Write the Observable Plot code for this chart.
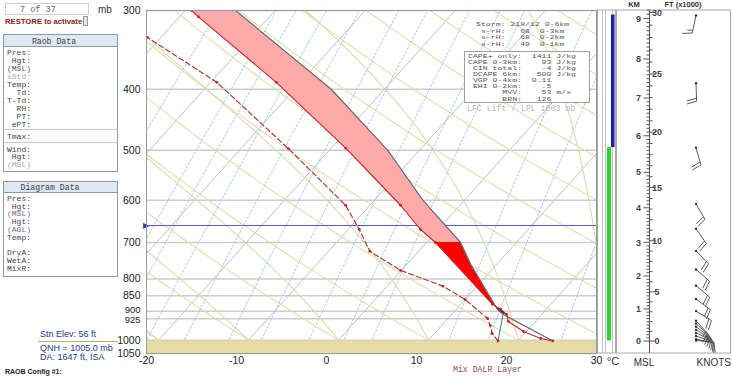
<!DOCTYPE html>
<html><head><meta charset="utf-8">
<script src="https://cdn.jsdelivr.net/npm/d3@7"></script>
<script src="https://cdn.jsdelivr.net/npm/@observablehq/plot@0.6"></script>
<style>
body{margin:0;background:#fff;}
#wrap{position:relative;width:732px;height:377px;overflow:hidden;}
#wrap svg{position:absolute;left:0;top:0;}
</style></head>
<body><div id="wrap"></div>
<script>
// ---------------- DATA ----------------
const pressureTicks = [300, 400, 500, 600, 700, 800, 850, 900, 925, 1000, 1050];
const tempTicks = [-20, -10, 0, 10, 20, 30];

// environment temperature (°C) at pressure (mb)
const envP = [1003, 994, 969, 934, 910, 893, 877, 700, 667, 611, 496, 390, 307, 300];
const envT = [23.9, 22.3, 19.7, 17.0, 16.1, 14.9, 13.5, 1.0, -2.0, -6.6, -18.4, -32.7, -47.9, -49.3];

// dewpoint (°C)
const dewP = [1003, 976, 948, 924, 862, 821, 775, 723, 667, 611, 497, 390, 331, 300];
const dewT = [17.8, 16.4, 15.4, 14.4, 10.0, 6.2, -0.1, -5.4, -8.8, -12.7, -24.7, -39.3, -51.5, -58.8];

// lifted parcel (°C)
const parcelP = [1003, 910, 894, 758, 700, 600, 500, 400, 300];
const parcelT = [23.9, 15.7, 14.6, 7.1, 3.8, -4.6, -13.5, -25.9, -44.4];

// winds
const windP   = [306, 392, 496, 609, 667, 723, 774, 821, 862, 901, 933, 943, 954, 965, 976, 987, 998, 1003];
const windDir = [192, 178, 164, 150, 145, 136, 131, 130, 127, 121, 138, 132, 126, 120, 114, 108, 102, 96];
const windSpd = [15, 20, 20, 20, 20, 20, 20, 20, 20, 20, 15, 15, 15, 15, 10, 10, 10, 10];

// side strip bars (pressure spans)
const greenBarP = [1003, 495];
const blueBarP = [495, 305];

const SURFACE_P = 1003;
const QNH = 1005;
const markerP = 658;

const kmTicks = [0, 1, 2, 3, 4, 5, 6, 7, 8, 9];
const ftTicks = [0, 5, 10, 15, 20, 25, 30];

const mixRatios = [0.2, 0.4, 0.5, 0.7, 1, 1.5, 2, 3, 4, 5, 9, 12, 20];
const isoTemps = d3.range(-70, 31, 10);
const dryThetas = d3.range(-30, 111, 10);
const moistStarts = d3.range(-20, 31, 10);

const stormLines = ["Storm: 218/12 0-6km", " s-rH:   68  0-3km", " s-rH:   68  0-2km", " s-rH:   49  0-1km"];
const statLabels = ["CAPE+ only:", "CAPE 0-3km:", " CIN total:", " DCAPE 6km:", " VGP 0-4km:", " EHI 0-2km:", "       MVV:", "       BRN:"];
const statValues = ["  1411 J/kg", "    93 J/kg", "    -4 J/kg", "   500 J/kg", "  0.11", "    .5", "    53 m/s", "   126"];
const raobLabels = ["Pres:", "Hgt:", "(MSL)", "\u00b1Std:", "Temp:", "Td:", "T-Td:", "RH:", "PT:", "ePT:"];
const diagLabels = ["Pres:", "Hgt:", "(MSL)", "Hgt:", "(AGL)", "Temp:", "", "DryA:", "WetA:", "MixR:"];

// ---------------- GEOMETRY ----------------
const W = 732, H = 377, ML = 146, MR = 136, MT = 10, MB = 24;
const P_BOTTOM = 1050, P_TOP = 300;
const PX_PER_C = (W - ML - MR) / 50;
const PX_PER_LN = (H - MT - MB) / Math.log(P_BOTTOM / P_TOP);
const SKEW = 0.9 * PX_PER_LN / PX_PER_C;
const sx = (t, p) => t + SKEW * Math.log(P_BOTTOM / p);
const SANS = "Arial, 'Liberation Sans', sans-serif";
const MONO = "'Liberation Mono', 'DejaVu Sans Mono', monospace";

function interpT(P, T, p) {
  for (let i = 0; i < P.length - 1; i++) {
    if (p <= P[i] && p >= P[i + 1]) {
      const f = Math.log(P[i] / p) / Math.log(P[i] / P[i + 1]);
      return T[i] + f * (T[i + 1] - T[i]);
    }
  }
  return p > P[0] ? T[0] : T[T.length - 1];
}

const levels = d3.range(1050, 299, -10);
const isoPts = isoTemps.flatMap(t => [{k: t, p: 1050, t}, {k: t, p: 300, t}]);
const dryPts = dryThetas.flatMap(th => levels.map(p => ({k: th, p, t: (th + 273.15) * Math.pow(p / 1000, 0.2857) - 273.15})));
function dTdp(p, T) {
  const Tc = T - 273.15;
  const es = 6.112 * Math.exp(17.67 * Tc / (Tc + 243.5));
  const rs = 0.622 * es / (p - es);
  const num = (287.04 * T + 2.501e6 * rs) / p;
  const den = 1005.7 + (2.501e6 * 2.501e6 * rs * 0.622) / (287.04 * T * T);
  return num / den;
}
function moist(t0) {
  const run = (dir, pEnd) => {
    let p = 1000, T = t0 + 273.15;
    const h = 5 * dir;
    const seg = [];
    while ((dir < 0 && p > pEnd) || (dir > 0 && p < pEnd)) {
      const k1 = dTdp(p, T), k2 = dTdp(p + h / 2, T + h / 2 * k1), k3 = dTdp(p + h / 2, T + h / 2 * k2), k4 = dTdp(p + h, T + h * k3);
      T += h / 6 * (k1 + 2 * k2 + 2 * k3 + k4); p += h;
      seg.push({p, t: T - 273.15});
    }
    return seg;
  };
  const up = run(-1, 300), down = run(1, 1050);
  return [...down.reverse(), {p: 1000, t: t0}, ...up].map(d => ({...d, k: t0}));
}
const moistPts = moistStarts.flatMap(moist);
function tdFromW(w, p) {
  const e = w * p / (622 + w);
  const l = Math.log(e / 6.112);
  return 243.5 * l / (17.67 - l);
}
const mixPts = mixRatios.flatMap(w => levels.map(p => ({k: w, p, t: tdFromW(w, p)})));

const env = envP.map((p, i) => ({p, t: envT[i]}));
const dew = dewP.map((p, i) => ({p, t: dewT[i]}));
const parcel = parcelP.map((p, i) => ({p, t: parcelT[i]}));
const lclLink = [{p: dewP[0], t: dewT[0]}, {p: parcelP[1], t: parcelT[1]}];

function band(pHi, pLo, mode) {
  const lv = Array.from(new Set([...envP, ...parcelP, pHi, pLo].filter(p => p <= pHi && p >= pLo))).sort((a, b) => b - a);
  const out = [];
  lv.forEach((p, i) => {
    const e = interpT(envP, envT, p), q = interpT(parcelP, parcelT, p);
    if (i > 0) {
      const p0 = lv[i - 1];
      const d0 = interpT(parcelP, parcelT, p0) - interpT(envP, envT, p0), d1 = q - e;
      if (d0 * d1 < 0) {
        const f = d0 / (d0 - d1);
        const pc = Math.exp(Math.log(p0) + f * (Math.log(p) - Math.log(p0)));
        const ec = interpT(envP, envT, pc);
        out.push({p: pc, a: ec, b: ec});
      }
    }
    out.push({p, a: e, b: mode === "pos" ? Math.max(e, q) : Math.min(e, q)});
  });
  return out;
}

// height table (hypsometric, from sounding temps)
const hTable = (() => {
  const rows = [{p: QNH, z: 0}];
  let z = 0;
  for (let p = QNH; p > 295; p -= 1) {
    const T = interpT(envP, envT, p - 0.5) + 273.15;
    z += 29.27 * T * Math.log(p / (p - 1));
    rows.push({p: p - 1, z});
  }
  return rows;
})();
function pAtZ(z) {
  for (let i = 1; i < hTable.length; i++) {
    if (hTable[i].z >= z) {
      const a = hTable[i - 1], b = hTable[i];
      return a.p + (z - a.z) / (b.z - a.z) * (b.p - a.p);
    }
  }
  return null;
}

// ---------------- RIGHT PANEL (uses plot y scale) ----------------
function rightPanel(index, scales) {
  const y = scales.y;
  const g = d3.create("svg:g").attr("font-family", SANS);
  const yT = y(P_TOP), yB = y(P_BOTTOM);
  g.append("rect").attr("x", 597.5).attr("y", yT).attr("width", 18).attr("height", yB - yT).attr("fill", "#fff").attr("stroke", "#a8a8a8");
  for (const xv of [602.5, 605.5, 612.5]) g.append("line").attr("x1", xv).attr("x2", xv).attr("y1", yT).attr("y2", yB).attr("stroke", "#c4c4c4");
  g.append("rect").attr("x", 607).attr("width", 4).attr("y", y(greenBarP[1])).attr("height", y(greenBarP[0]) - y(greenBarP[1])).attr("fill", "#2bd42b");
  g.append("rect").attr("x", 611).attr("width", 3.5).attr("y", y(blueBarP[1])).attr("height", y(blueBarP[0]) - y(blueBarP[1])).attr("fill", "#1c1cb4");
  g.append("rect").attr("x", 616.5).attr("y", yT).attr("width", 114).attr("height", yB - yT).attr("fill", "#fff").attr("stroke", "#a8a8a8");
  const AX = 649.5;
  g.append("line").attr("x1", AX).attr("x2", AX).attr("y1", yT).attr("y2", yB).attr("stroke", "#555");
  for (let k = 0; k <= 93; k++) {
    const p = pAtZ(k * 100); if (!p || p < P_TOP) continue;
    const major = k % 10 === 0;
    g.append("line").attr("x1", AX - (major ? 6 : 3)).attr("x2", AX).attr("y1", y(p)).attr("y2", y(p)).attr("stroke", "#555");
  }
  for (let f = 0; f <= 31; f++) {
    const p = pAtZ(f * 304.8); if (!p || p < P_TOP) continue;
    const major = f % 5 === 0;
    g.append("line").attr("x1", AX).attr("x2", AX + (major ? 6 : 3)).attr("y1", y(p)).attr("y2", y(p)).attr("stroke", "#555");
  }
  kmTicks.forEach(k => g.append("text").attr("x", 641).attr("y", y(pAtZ(k * 1000))).attr("dy", "0.35em").attr("text-anchor", "end").attr("font-size", 9).attr("font-weight", "bold").attr("fill", "#444").text(k));
  ftTicks.forEach(f => g.append("text").attr("x", 657).attr("y", y(pAtZ(f * 304.8))).attr("dy", "0.35em").attr("font-size", 9).attr("font-weight", "bold").attr("fill", "#444").text(f));
  // barbs
  const BX = 696;
  windP.forEach((p, i) => {
    const x0 = BX, y0 = y(p);
    const a = windDir[i] * Math.PI / 180;
    const ux = Math.sin(a), uy = -Math.cos(a);
    const L = 18;
    const x1 = x0 + ux * L, y1 = y0 + uy * L;
    const b = a + 76 * Math.PI / 180;
    const fx = Math.sin(b), fy = -Math.cos(b);
    let d = `M${x0},${y0}L${x1},${y1}`;
    let s = windSpd[i], pos = 0;
    while (s >= 10) {
      const bx = x1 - ux * pos * 3, by = y1 - uy * pos * 3;
      d += `M${bx},${by}l${fx * 10},${fy * 10}`; s -= 10; pos++;
    }
    if (s >= 5) {
      const bx = x1 - ux * pos * 3, by = y1 - uy * pos * 3;
      d += `M${bx},${by}l${fx * 5.5},${fy * 5.5}`;
    }
    g.append("path").attr("d", d).attr("stroke", "#4a4a4a").attr("fill", "none").attr("stroke-width", 0.9);
    g.append("circle").attr("cx", x0).attr("cy", y0).attr("r", 1.2).attr("fill", "#333");
  });
  const lab = (t, x, yy, o = {}) => g.append("text").attr("x", x).attr("y", yy).attr("dy", "0.35em").attr("text-anchor", o.anchor || "middle").attr("font-size", o.size || 10).attr("font-weight", o.bold ? "bold" : null).attr("fill", "#333").text(t);
  lab("\u00b0C", 613, 361, {size: 11});
  lab("MSL", 644, 362, {size: 10});
  lab("KNOTS", 731, 362, {size: 10, anchor: "end"});
  lab("KM", 634, 4, {size: 7.5, bold: true});
  lab("FT (x1000)", 683, 4, {size: 7.5, bold: true});
  return g.node();
}

// ---------------- PLOT ----------------
const xy = {x: d => sx(d.t, d.p), y: "p"};
const tightLow = [925], tightHigh = [900];
const plainTicks = pressureTicks.filter(p => !tightLow.includes(p) && !tightHigh.includes(p));
const chart = Plot.plot({
  width: W, height: H, marginLeft: ML, marginRight: MR, marginTop: MT, marginBottom: MB,
  style: {fontFamily: SANS, fontSize: "10.5px", color: "#222", background: "#fff"},
  x: {domain: [-20, 30], ticks: tempTicks, tickFormat: d => String(d), tickSize: 0, tickPadding: 3, label: null},
  y: {type: "log", domain: [P_BOTTOM, P_TOP], axis: null},
  marks: [
    Plot.ruleY(pressureTicks, {stroke: "#cdcdcd", strokeWidth: 1.5}),
    Plot.line(isoPts, {...xy, z: "k", stroke: "#c0c0c0", strokeWidth: 1, clip: true}),
    Plot.line(dryPts, {...xy, z: "k", stroke: "#dfe0a8", strokeWidth: 1.1, clip: true}),
    Plot.line(moistPts, {...xy, z: "k", stroke: "#d6dfaa", strokeWidth: 1.1, clip: true}),
    Plot.line(mixPts, {...xy, z: "k", stroke: "#9ccfe2", strokeWidth: 1, strokeDasharray: "2,2", clip: true}),
    Plot.ruleY([markerP], {stroke: "#5858d0", strokeWidth: 1}),
    Plot.rect([SURFACE_P], {x1: -20, x2: 30, y1: d => d, y2: P_BOTTOM, fill: "#e6dba3"}),
    Plot.areaX(band(700, 300, "pos"), {y: "p", x1: d => sx(d.a, d.p), x2: d => sx(d.b, d.p), fill: "#ffaaaa", clip: true}),
    Plot.areaX(band(910, 700, "pos"), {y: "p", x1: d => sx(d.a, d.p), x2: d => sx(d.b, d.p), fill: "#ff0000"}),
    Plot.areaX(band(910, 700, "neg"), {y: "p", x1: d => sx(d.a, d.p), x2: d => sx(d.b, d.p), fill: "#1a1ab8"}),
    Plot.line(parcel, {...xy, stroke: "#6a6a6a", strokeWidth: 1.2, clip: true}),
    Plot.line(lclLink, {...xy, stroke: "#3f7f8a", strokeWidth: 1}),
    Plot.line(dew, {...xy, stroke: "#b73434", strokeWidth: 1.2, strokeDasharray: "5,3", clip: true}),
    Plot.dot(dew, {...xy, r: 1.4, fill: "#c02525", clip: true}),
    Plot.line(env, {...xy, stroke: "#c82424", strokeWidth: 1.1, clip: true}),
    Plot.dot(env, {...xy, r: 1.4, fill: "#c82424", clip: true}),
    Plot.text([markerP], {x: -20, y: d => d, text: () => "\u25b6", textAnchor: "end", fill: "#3535b5", fontSize: 8, dx: 2}),
    Plot.frame({stroke: "#9a9a9a"}),
    // pressure labels (left)
    Plot.text(plainTicks, {y: d => d, text: d => String(d), frameAnchor: "left", textAnchor: "end", dx: -6, fontSize: 10.5, fill: "#222"}),
    Plot.text(tightHigh, {y: d => d, text: d => String(d), frameAnchor: "left", textAnchor: "end", dx: -6, dy: -1.3, fontSize: 9.5, fill: "#222"}),
    Plot.text(tightLow, {y: d => d, text: d => String(d), frameAnchor: "left", textAnchor: "end", dx: -6, dy: 1.5, fontSize: 9.5, fill: "#222"}),
    rightPanel
  ]
});
document.getElementById("wrap").appendChild(chart);

// ---------------- OVERLAY TEXT / PANELS ----------------
const ov = d3.select("#wrap").append("svg").attr("width", W).attr("height", H).style("pointer-events", "none");
function T(str, x, y, o = {}) {
  const t = ov.append("text")
    .attr("font-family", o.mono ? MONO : SANS).attr("font-size", o.size || 8)
    .attr("fill", o.fill || "#333").attr("text-anchor", o.anchor || "start")
    .attr("font-weight", o.bold ? "bold" : null).style("white-space", "pre").text(str);
  if (o.squash) t.attr("transform", `translate(${x},${y}) scale(1,${o.squash})`).attr("dy", "0.35em");
  else t.attr("x", x).attr("y", y).attr("dy", "0.35em");
  return t;
}
function R(x, y, w, h, fill, stroke) { ov.append("rect").attr("x", x).attr("y", y).attr("width", w).attr("height", h).attr("fill", fill).attr("stroke", stroke || "none"); }
function Lh(x1, x2, y, stroke) { ov.append("line").attr("x1", x1).attr("x2", x2).attr("y1", y).attr("y2", y).attr("stroke", stroke); }

T("mb", 98, 9, {size: 10});
R(5.5, 3.5, 83, 11, "#fff", "#cfcfcf");
T("7 of 37", 20, 9.5, {mono: true, size: 8.5, fill: "#666"});
T("RESTORE to activate", 5, 21, {size: 7.7, bold: true, fill: "#8b1c1c"});
R(83.5, 16.5, 4, 9, "#e4e4e4", "#9a9a9a");

// Raob Data box
R(3.5, 34.5, 114, 137, "#fff", "#8e9aa6");
R(3.5, 34.5, 114, 12, "#dde8f2", "#8e9aa6");
T("Raob Data", 54, 41, {mono: true, size: 8.2, anchor: "middle", fill: "#444"});
raobLabels.forEach((s, i) => T(s, 31, 52 + i * 8, {mono: true, size: 8, anchor: "end", fill: i === 3 ? "#aaa" : (i === 2 ? "#555" : "#444")}));
Lh(3.5, 117.5, 129.5, "#c8c8c8");
T("Tmax:", 31, 136, {mono: true, size: 8, anchor: "end", fill: "#444"});
Lh(3.5, 117.5, 142.5, "#c8c8c8");
T("Wind:", 31, 149, {mono: true, size: 8, anchor: "end", fill: "#444"});
T("Hgt:", 31, 156.5, {mono: true, size: 8, anchor: "end", fill: "#444"});
T("(MSL)", 31, 164, {mono: true, size: 8, anchor: "end", fill: "#aaa"});

// Diagram Data box
R(3.5, 181.5, 114, 95, "#fff", "#8e9aa6");
R(3.5, 181.5, 114, 11, "#dde8f2", "#8e9aa6");
T("Diagram Data", 50, 187, {mono: true, size: 8.2, anchor: "middle", fill: "#444"});
diagLabels.forEach((s, i) => { if (s) T(s, 31, 198 + i * 7.8, {mono: true, size: 8, anchor: "end", fill: (s === "(MSL)" || s === "(AGL)") ? "#8a5a9a" : "#444"}); });

// station info
T("Stn Elev: 56 ft", 40, 334, {size: 9, fill: "#1e3c8c"});
Lh(38, 118, 341.5, "#bcae72");
T("QNH = 1005.0 mb", 40, 347.5, {size: 9, fill: "#1e3c8c"});
T("DA: 1647 ft, ISA", 40, 357, {size: 9, fill: "#1e3c8c"});
T("RAOB Config #1:", 5, 372, {size: 7, bold: true, fill: "#222"});

// stats
stormLines.forEach((s, i) => T(s, 476, 24 + i * 6.7, {mono: true, size: 8.2, fill: "#555", squash: 0.72}));
R(464.5, 51.5, 125, 51, "#fff", "#a0a0a0");
const statY = [55.5, 61.5, 67.5, 73.5, 79.5, 85.5, 92, 99];
statLabels.forEach((s, i) => T(s + statValues[i], 468, statY[i], {mono: true, size: 8.2, fill: "#555", squash: 0.72}));
T("LFC Lift / LPL 1003 mb", 467, 108, {mono: true, size: 8.2, fill: "#b8b8b8"});
T("Mix DALR Layer", 453, 369.5, {mono: true, size: 8.2, fill: "#8b4a5a"});
</script>
</body></html>
